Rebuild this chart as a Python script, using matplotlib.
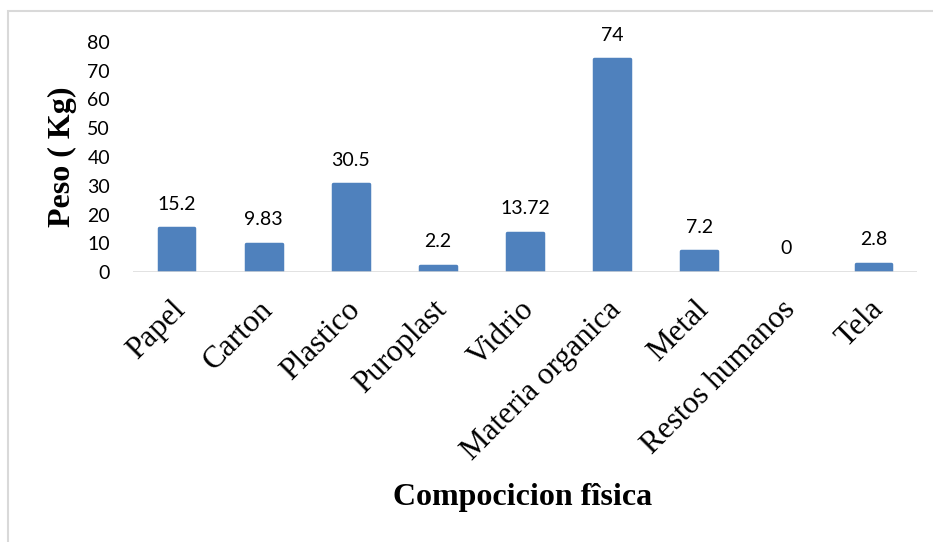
import numpy as np
import matplotlib
matplotlib.use('Agg')
import matplotlib.pyplot as plt
from matplotlib.patches import Rectangle
from matplotlib.transforms import ScaledTranslation

# Composition of the sampled waste, in kg
categories = ['Papel', 'Carton', 'Plastico', 'Puroplast', 'Vidrio',
              'Materia organica', 'Metal', 'Restos humanos', 'Tela']
weights = [15.2, 9.83, 30.5, 2.2, 13.72, 74, 7.2, 0, 2.8]
weight_labels = ['15.2', '9.83', '30.5', '2.2', '13.72', '74', '7.2', '0', '2.8']
yticks = [0, 10, 20, 30, 40, 50, 60, 70, 80]

bar_color = '#4F81BD'
num_font = 'Lato'
serif_font = 'Liberation Serif'

W, H = 933, 542
fig = plt.figure(figsize=(W / 100, H / 100), dpi=100)
ax = fig.add_axes([133 / W, 1 - 272 / H, (917 - 133) / W, (272 - 42) / H])

x = np.arange(len(categories))
# rounded edge in the fill colour; skip it on empty bars so nothing shows
edge_widths = [2.5 if w > 0 else 0 for w in weights]
ax.bar(x, weights, width=0.41, color=bar_color, edgecolor=bar_color,
       linewidth=edge_widths, joinstyle='round', zorder=2)

# value labels above each bar
for xi, w, lab in zip(x, weights, weight_labels):
    ax.annotate(lab, (xi, w), xytext=(0, 13.3), textcoords='offset points',
                ha='center', va='baseline', fontsize=14, family=num_font,
                color='black', annotation_clip=False)

ax.set_xlim(-0.5, len(categories) - 0.5)
ax.set_ylim(0, 80)
ax.set_yticks(yticks)
ax.set_yticklabels([str(t) for t in yticks], fontsize=14, family=num_font)
ax.tick_params(axis='y', length=0, pad=16.5)

ax.set_xticks(x)
ax.set_xticklabels(categories, rotation=45, ha='right', va='center',
                   rotation_mode='anchor', fontsize=22.5, family=serif_font)
ax.tick_params(axis='x', length=0, pad=24)
shift = ScaledTranslation(5 / 100, 0, fig.dpi_scale_trans)
for lbl in ax.get_xticklabels():
    lbl.set_transform(lbl.get_transform() + shift)

for side in ['top', 'right', 'left', 'bottom']:
    ax.spines[side].set_visible(False)
# zero line drawn over the bar bases
ax.axhline(0, color='#D9D9D9', linewidth=1.8, zorder=3)

fig.text(62 / W, 1 - 157 / H, 'Peso ( Kg)', rotation=90, ha='center', va='center',
         fontsize=23, fontweight='bold', family=serif_font)
fig.text(523 / W, 1 - 498 / H, 'Compocicion fîsica', ha='center', va='center',
         fontsize=23, fontweight='bold', family=serif_font)

# chart frame
fig.patches.append(Rectangle((8 / W, -0.02), 1.1, 1 - 11 / H + 0.02,
                             transform=fig.transFigure, fill=False,
                             edgecolor='#D9D9D9', linewidth=1.5))

fig.savefig('out.png', dpi=100)
